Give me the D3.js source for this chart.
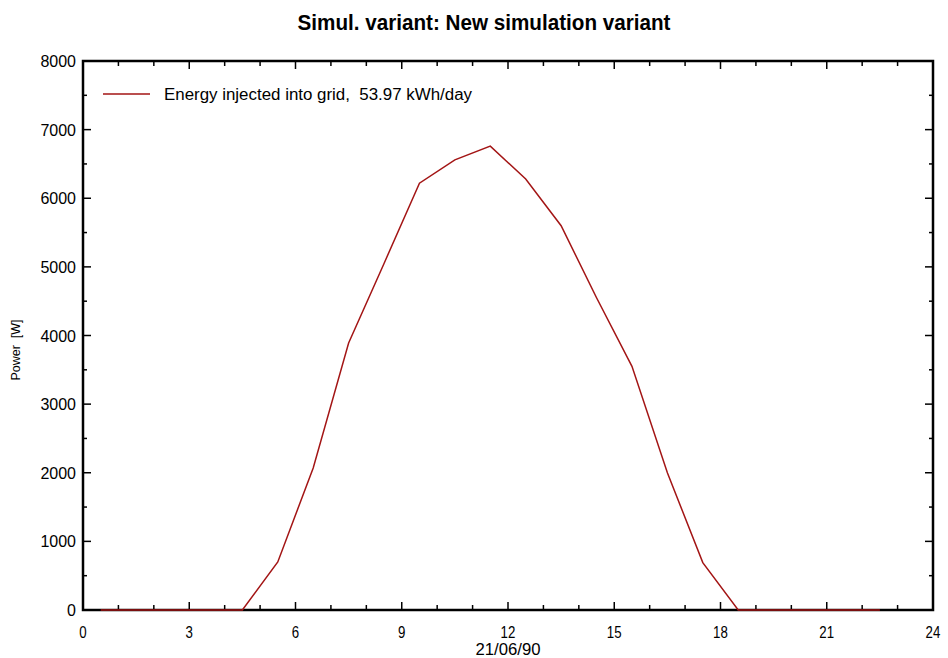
<!DOCTYPE html>
<html>
<head>
<meta charset="utf-8">
<script src="https://cdn.jsdelivr.net/npm/d3@7"></script>
<style>
  body { margin: 0; background: #fff; }
  svg { display: block; }
  text { white-space: pre; }
</style>
</head>
<body>
<svg id="chart" width="948" height="658"></svg>
<script>
// hourly values (half-hour centres)
const hours = [0.5, 1.5, 2.5, 3.5, 4.5, 5.5, 6.5, 7.5, 8.5, 9.5, 10.5, 11.5,
               12.5, 13.5, 14.5, 15.5, 16.5, 17.5, 18.5, 19.5, 20.5, 21.5, 22.5];
const power = [0, 0, 0, 0, 0, 700, 2070, 3890, 5050, 6220, 6560, 6760,
               6280, 5600, 4550, 3550, 2000, 690, 0, 0, 0, 0, 0];
const xTicks = [0, 3, 6, 9, 12, 15, 18, 21, 24];
const yTicks = [0, 1000, 2000, 3000, 4000, 5000, 6000, 7000, 8000];
const legendLabel = "Energy injected into grid,  53.97 kWh/day";

const svg = d3.select("#chart");
const m = { left: 83, right: 933, top: 61, bottom: 610 };
const font = "'Liberation Sans', Arial, sans-serif";

const x = d3.scaleLinear().domain([0, 24]).range([m.left, m.right]);
const y = d3.scaleLinear().domain([0, 8000]).range([m.bottom, m.top]);

// squeeze text to look like a narrow face
function condense(sel, k) {
    sel.each(function () {
        const w = this.getComputedTextLength();
        d3.select(this).attr("textLength", w * k).attr("lengthAdjust", "spacingAndGlyphs");
    });
}

// title
svg.append("text")
    .attr("x", 484).attr("y", 30)
    .attr("text-anchor", "middle")
    .style("font-family", font).style("font-weight", "bold").style("font-size", "22px")
    .text("Simul. variant: New simulation variant")
    .attr("textLength", 373).attr("lengthAdjust", "spacingAndGlyphs");

// minor/major ticks inside the frame (all four sides)
const g = svg.append("g").attr("stroke", "#000").attr("stroke-width", 1.5);
d3.range(1, 24).forEach(h => {
    const len = h % 3 === 0 ? 8 : 5;
    g.append("line").attr("x1", x(h)).attr("x2", x(h)).attr("y1", m.bottom).attr("y2", m.bottom - len);
    g.append("line").attr("x1", x(h)).attr("x2", x(h)).attr("y1", m.top).attr("y2", m.top + len);
});
d3.range(500, 8000, 500).forEach(v => {
    const len = v % 1000 === 0 ? 8 : 4;
    g.append("line").attr("y1", y(v)).attr("y2", y(v)).attr("x1", m.left).attr("x2", m.left + len);
    g.append("line").attr("y1", y(v)).attr("y2", y(v)).attr("x1", m.right).attr("x2", m.right - len);
});

// frame
svg.append("rect")
    .attr("x", m.left).attr("y", m.top)
    .attr("width", m.right - m.left).attr("height", m.bottom - m.top)
    .attr("fill", "none").attr("stroke", "#000").attr("stroke-width", 2.5);

// tick labels
svg.append("g").selectAll("text").data(xTicks).enter().append("text")
    .attr("x", d => x(d)).attr("y", 638)
    .attr("text-anchor", "middle")
    .style("font-family", font).style("font-size", "17px")
    .text(d => d)
    .call(condense, 0.78);

svg.append("g").selectAll("text").data(yTicks).enter().append("text")
    .attr("x", 76).attr("y", d => y(d) + 6)
    .attr("text-anchor", "end")
    .style("font-family", font).style("font-size", "16px")
    .text(d => d);

// axis titles
svg.append("text")
    .attr("x", x(12)).attr("y", 655)
    .attr("text-anchor", "middle")
    .style("font-family", font).style("font-size", "16px")
    .text("21/06/90")
    .attr("textLength", 65).attr("lengthAdjust", "spacingAndGlyphs");

svg.append("text")
    .attr("transform", "translate(20,350) rotate(-90)")
    .attr("text-anchor", "middle")
    .style("font-family", font).style("font-size", "12.5px")
    .text("Power  [W]");

// line
const line = d3.line().x((d, i) => x(hours[i])).y(d => y(d));
svg.append("path")
    .datum(power)
    .attr("d", line)
    .attr("fill", "none")
    .attr("stroke", "#a31515")
    .attr("stroke-width", 1.5);

// legend
svg.append("line")
    .attr("x1", 103).attr("x2", 150).attr("y1", 94).attr("y2", 94)
    .attr("stroke", "#a31515").attr("stroke-width", 1.5);
svg.append("text")
    .attr("x", 164).attr("y", 100)
    .style("font-family", font).style("font-size", "16px")
    .text(legendLabel)
    .attr("textLength", 308).attr("lengthAdjust", "spacingAndGlyphs");
</script>
</body>
</html>
